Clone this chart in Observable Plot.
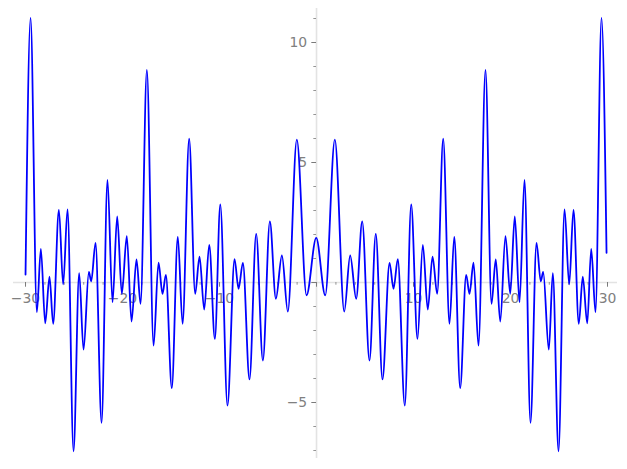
<!DOCTYPE html>
<html>
<head>
<meta charset="utf-8">
<script src="https://cdn.jsdelivr.net/npm/d3@7"></script>
<script src="https://cdn.jsdelivr.net/npm/@observablehq/plot@0.6"></script>
<style>
  html, body { margin: 0; padding: 0; background: #ffffff; }
  #chart svg { display: block; }
</style>
</head>
<body>
<div id="chart"></div>
<script>
// Curve turning points (x, y)
const xs = [
  -30, -29.48, -28.83, -28.42, -27.97, -27.53, -27.15, -26.56, -26.12, -25.67,
  -25.05, -24.47, -24.02, -23.47, -23.23, -22.78, -22.16, -21.55, -21.03, -20.55,
  -20.07, -19.56, -19.07, -18.56, -18.14, -17.49, -16.8, -16.29, -15.88, -15.53,
  -14.92, -14.3, -13.81, -13.13, -12.51, -12.06, -11.58, -11.06, -10.48, -9.92,
  -9.18, -8.45, -8.04, -7.59, -6.91, -6.22, -5.53, -4.81, -4.19, -3.57,
  -2.96, -2.03, -1.03, -0.03,
  0.9, 1.89, 2.86, 3.47, 4.09, 4.71, 5.46, 6.11, 6.8, 7.53,
  7.94, 8.38, 9.1, 9.76, 10.41, 10.96, 11.47, 11.96, 12.44, 13.06,
  13.71, 14.2, 14.81, 15.43, 15.77, 16.19, 16.7, 17.42, 18.04, 18.48,
  18.94, 19.48, 19.97, 20.44, 20.93, 21.44, 22.06, 22.68, 23.12, 23.37,
  23.95, 24.36, 24.95, 25.57, 26.05, 26.49, 27.04, 27.45, 27.91, 28.32,
  28.76, 29.38, 29.9
];
const ys = [
  0.33, 11.03, -1.24, 1.4, -1.7, 0.24, -1.72, 3.03, -0.08, 3.05,
  -7.03, 0.39, -2.8, 0.44, 0.05, 1.65, -5.85, 4.28, -0.82, 2.75,
  -0.47, 1.93, -1.625, 0.96, -0.89, 8.86, -2.63, 0.83, -0.47, 0.32,
  -4.4, 1.9, -1.72, 5.99, -0.47, 1.08, -1.125, 1.57, -2.35, 3.25,
  -5.13, 0.97, -0.26, 0.82, -4.04, 2.03, -3.25, 2.55, -0.68, 1.125,
  -1.21, 5.95, -0.53, 1.86,
  -0.53, 5.95, -1.21, 1.125, -0.68, 2.55, -3.25, 2.03, -4.04, 0.82,
  -0.26, 0.97, -5.13, 3.25, -2.35, 1.57, -1.125, 1.08, -0.47, 5.99,
  -1.72, 1.9, -4.4, 0.32, -0.47, 0.83, -2.63, 8.86, -0.89, 0.96,
  -1.625, 1.93, -0.47, 2.75, -0.82, 4.28, -5.85, 1.65, 0.05, 0.44,
  -2.8, 0.39, -7.03, 3.05, -0.08, 3.03, -1.72, 0.24, -1.7, 1.4,
  -1.24, 11.03, 1.24
];

// Axis ticks and labels
const xMajor = [-30, -20, -10, 0, 10, 20, 30];
const xMinor = [-28, -26, -24, -22, -18, -16, -14, -12, -8, -6, -4, -2, 2, 4, 6, 8, 12, 14, 16, 18, 22, 24, 26, 28];
const xLabelValues = [-30, -20, -10, 10, 20, 30];
const xLabels = ["−30", "−20", "−10", "10", "20", "30"];
const yMajor = [-5, 0, 5, 10];
const yMinor = [-7, -6, -4, -3, -2, -1, 1, 2, 3, 4, 6, 7, 8, 9, 11];
const yLabelValues = [-5, 5, 10];
const yLabels = ["−5", "5", "10"];

const points = xs.map((x, i) => ({x, y: ys[i]}));

const spineColor = "#e3e3e3";
const tickColor = "#7a7a7a";
const labelColor = "#808080";
const majorLen = 4.7;
const minorLen = 2.7;

const chart = Plot.plot({
  width: 627,
  height: 469,
  marginLeft: 13,
  marginRight: 10,
  marginTop: 8,
  marginBottom: 11,
  x: {domain: [-31.24, 31.03], axis: null},
  y: {domain: [-7.333, 11.417], axis: null},
  style: {background: "#ffffff", fontFamily: "DejaVu Sans, sans-serif"},
  marks: [
    // spines through the origin
    Plot.ruleY([0], {stroke: spineColor, strokeWidth: 1.6}),
    Plot.ruleX([0], {stroke: spineColor, strokeWidth: 1.6}),
    // x ticks (pointing down)
    Plot.ruleX(xMajor, {x: d => d, y1: 0, y2: 0, insetTop: 0, insetBottom: -majorLen, stroke: tickColor, strokeWidth: 1}),
    Plot.ruleX(xMinor, {x: d => d, y1: 0, y2: 0, insetTop: 0, insetBottom: -minorLen, stroke: tickColor, strokeWidth: 0.8}),
    // y ticks (pointing left)
    Plot.ruleY(yMajor, {y: d => d, x1: 0, x2: 0, insetLeft: -majorLen, insetRight: 0, stroke: tickColor, strokeWidth: 1}),
    Plot.ruleY(yMinor, {y: d => d, x1: 0, x2: 0, insetLeft: -minorLen, insetRight: 0, stroke: tickColor, strokeWidth: 0.8}),
    // tick labels
    Plot.text(xLabelValues, {x: d => d, y: 0, text: (d, i) => xLabels[i], textAnchor: "middle", lineAnchor: "top", dy: 10.3, fill: labelColor, fontSize: 13.9}),
    Plot.text(yLabelValues, {x: 0, y: d => d, text: (d, i) => yLabels[i], textAnchor: "end", lineAnchor: "middle", dx: -9.4, fill: labelColor, fontSize: 13.9}),
    // the curve
    Plot.line(points, {x: "x", y: "y", curve: "monotone-x", stroke: "#0000ff", strokeWidth: 1.8})
  ]
});

document.getElementById("chart").appendChild(chart);
</script>
</body>
</html>
